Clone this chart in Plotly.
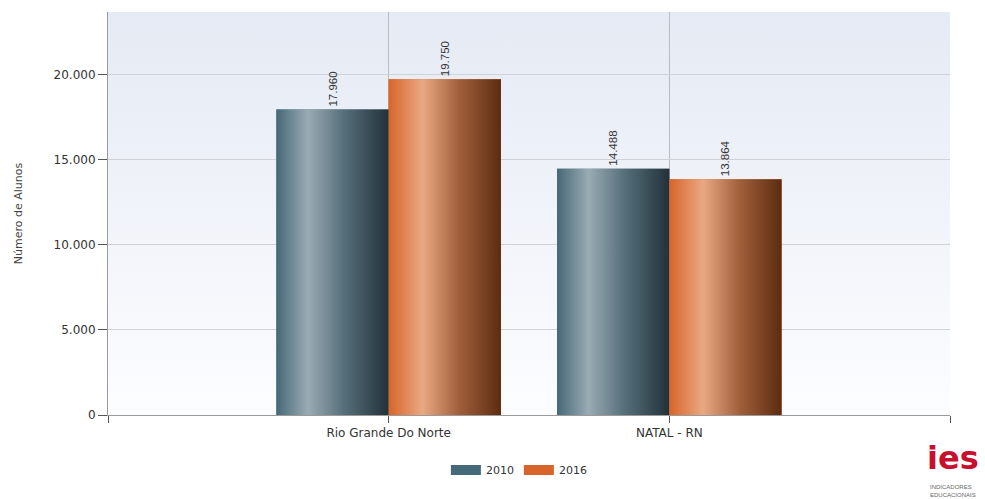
import base64
import plotly.graph_objects as go

# Data
categories = ["Rio Grande Do Norte", "NATAL - RN"]
years = ["2010", "2016"]
values_2010 = [17960, 14488]
values_2016 = [19750, 13864]
y_ticks = [0, 5000, 10000, 15000, 20000]

series = [
    dict(name=years[0], values=values_2010, base="#456978",
         scale=[[0, "#466877"], [0.28, "#9aabb4"], [0.6, "#566f7b"], [1, "#22313a"]]),
    dict(name=years[1], values=values_2016, base="#d9642b",
         scale=[[0, "#d7652a"], [0.3, "#eaa882"], [0.62, "#a2603c"], [1, "#5c2c10"]]),
]

BAR_W = 0.4
offsets = [-BAR_W, 0.0]
cat_pos = list(range(len(categories)))
Y_MAX = 23700

fig = go.Figure()

for s, off in zip(series, offsets):
    fig.add_trace(go.Bar(
        x=cat_pos, y=s["values"], name=s["name"],
        width=BAR_W, offset=off, showlegend=False,
        marker=dict(color=s["base"], line=dict(width=0)),
        text=s["values"], texttemplate="%{y:,d}",
        textposition="outside", textangle=-90,
        textfont=dict(family="Liberation Sans", size=11.5, color="#333333"),
        cliponaxis=False, hoverinfo="skip",
    ))

# shaded gradient face of each bar
for s, off in zip(series, offsets):
    for cx, v in zip(cat_pos, s["values"]):
        x0, x1 = cx + off, cx + off + BAR_W
        fig.add_trace(go.Scatter(
            x=[x0, x1, x1, x0, x0], y=[0, 0, v, v, 0],
            mode="lines", line=dict(width=0), fill="toself",
            fillgradient=dict(type="horizontal", colorscale=s["scale"]),
            showlegend=False, hoverinfo="skip",
        ))

# legend entries with wide rectangular swatches
for s in series:
    fig.add_trace(go.Scatter(
        x=[None], y=[None], mode="lines", name=s["name"],
        line=dict(color=s["base"], width=10), showlegend=True,
    ))

bg_svg = (
    "<svg xmlns='http://www.w3.org/2000/svg' width='10' height='100' preserveAspectRatio='none'>"
    "<defs><linearGradient id='g' x1='0' y1='0' x2='0' y2='1'>"
    "<stop offset='0' stop-color='#e5eaf4'/><stop offset='1' stop-color='#fcfdff'/>"
    "</linearGradient></defs><rect width='10' height='100' fill='url(#g)'/></svg>"
)
bg_uri = "data:image/svg+xml;base64," + base64.b64encode(bg_svg.encode()).decode()

fig.update_layout(
    width=985, height=499,
    margin=dict(l=108, r=35, t=12, b=84, autoexpand=False),
    paper_bgcolor="white", plot_bgcolor="rgba(0,0,0,0)",
    separators=",.",
    barmode="overlay",
    font=dict(family="DejaVu Sans", size=12, color="#333333"),
    images=[dict(source=bg_uri, xref="paper", yref="paper", x=0, y=1,
                 sizex=1, sizey=1, xanchor="left", yanchor="top",
                 sizing="stretch", layer="below")],
    legend=dict(orientation="h", x=0.488, xanchor="center",
                yref="container", y=0.058, yanchor="middle",
                font=dict(size=11, color="#333333"),
                bgcolor="rgba(0,0,0,0)"),
    xaxis=dict(
        range=[-1, 2], tickvals=[-1, 0, 1, 2], ticktext=["", *categories, ""],
        showgrid=True, gridcolor="#b8bcc2", gridwidth=1,
        showline=True, linecolor="#9a9a9a", linewidth=1,
        ticks="outside", ticklen=7, tickcolor="#555555",
        tickfont=dict(size=12, color="#333333"),
        zeroline=False, fixedrange=True,
    ),
    yaxis=dict(
        range=[0, Y_MAX], tickvals=y_ticks, tickformat=",d",
        showgrid=True, gridcolor="#cfd3d8", gridwidth=1,
        showline=True, linecolor="#9a9a9a", linewidth=1,
        ticks="outside", ticklen=9, tickcolor="#555555",
        tickfont=dict(size=12, color="#333333"),
        title=dict(text="Número de Alunos", font=dict(size=11, color="#444444"), standoff=28),
        zeroline=False, fixedrange=True,
    ),
    annotations=[
        dict(text="<b>ies</b>", xref="paper", yref="paper", x=0.972, y=-0.058,
             xanchor="left", yanchor="top", showarrow=False, borderpad=0,
             font=dict(family="DejaVu Sans", size=32, color="#c8102e")),
        dict(text="INDICADORES<br>EDUCACIONAIS", xref="paper", yref="paper", x=0.975, y=-0.168,
             xanchor="left", yanchor="top", showarrow=False, align="left", borderpad=0,
             font=dict(family="Liberation Sans Narrow, Liberation Sans", size=6, color="#666666")),
    ],
)

fig.write_html("out.html")
